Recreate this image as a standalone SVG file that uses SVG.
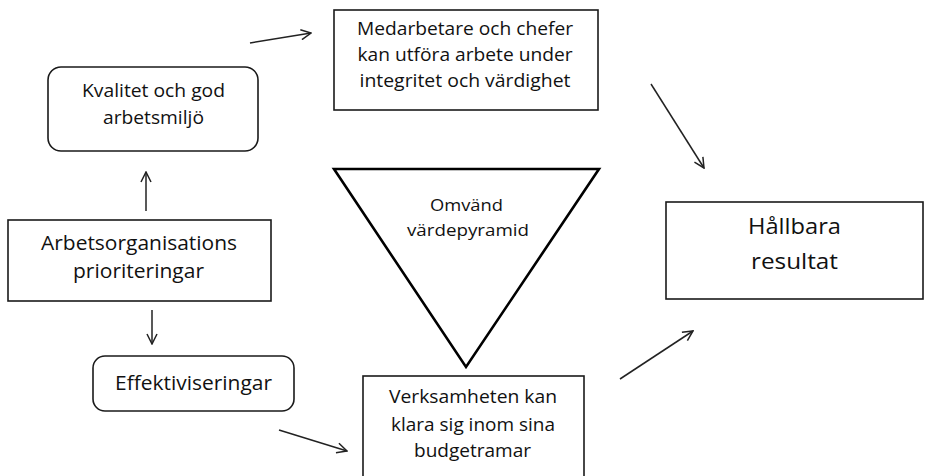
<svg xmlns="http://www.w3.org/2000/svg" width="932" height="476" viewBox="0 0 932 476">
<style>
  .box { fill: #ffffff; stroke: #1a1a1a; stroke-width: 1.6; }
  .tri { fill: #ffffff; stroke: #000000; stroke-width: 2.6; stroke-linejoin: miter; }
  .lbl { font-family: "Open Sans", "Noto Sans", sans-serif; fill: #111111; text-anchor: middle; }
  .conn { stroke: #222222; stroke-width: 1.5; fill: none; marker-end: url(#arr); }
</style>
<defs>
  <marker id="arr" viewBox="0 0 12 12" refX="11" refY="6" markerWidth="12" markerHeight="12" markerUnits="userSpaceOnUse" orient="auto">
    <path d="M1,1 L11,6 L1,11" fill="none" stroke="#222222" stroke-width="1.5"/>
  </marker>
</defs>
<rect width="932" height="476" fill="#ffffff"/>

<g id="node-medarbetare">
  <rect class="box" x="334" y="10" width="264" height="100"/>
  <text class="lbl" font-size="18.5" x="465" y="35" textLength="216" lengthAdjust="spacingAndGlyphs">Medarbetare och chefer</text>
  <text class="lbl" font-size="18.5" x="465" y="61" textLength="215" lengthAdjust="spacingAndGlyphs">kan utföra arbete under</text>
  <text class="lbl" font-size="18.5" x="465" y="87" textLength="211" lengthAdjust="spacingAndGlyphs">integritet och värdighet</text>
</g>

<g id="node-kvalitet">
  <rect class="box" x="48" y="67" width="210" height="84" rx="13" ry="13"/>
  <text class="lbl" font-size="17.5" x="153.5" y="97" textLength="143" lengthAdjust="spacingAndGlyphs">Kvalitet och god</text>
  <text class="lbl" font-size="17.5" x="153.5" y="124" textLength="101" lengthAdjust="spacingAndGlyphs">arbetsmiljö</text>
</g>

<g id="node-arbetsorg">
  <rect class="box" x="8" y="220" width="263" height="81"/>
  <text class="lbl" font-size="19.5" x="139" y="250" textLength="196" lengthAdjust="spacingAndGlyphs">Arbetsorganisations</text>
  <text class="lbl" font-size="19.5" x="138.5" y="278" textLength="131" lengthAdjust="spacingAndGlyphs">prioriteringar</text>
</g>

<g id="node-effektiv">
  <rect class="box" x="93" y="356" width="201" height="55" rx="12" ry="12"/>
  <text class="lbl" font-size="19.5" x="193.5" y="390" textLength="157" lengthAdjust="spacingAndGlyphs">Effektiviseringar</text>
</g>

<g id="node-pyramid">
  <polygon class="tri" points="334,169 599,169 466,367"/>
  <text class="lbl" font-size="17" x="466.5" y="211" textLength="73" lengthAdjust="spacingAndGlyphs">Omvänd</text>
  <text class="lbl" font-size="17" x="468" y="236" textLength="122" lengthAdjust="spacingAndGlyphs">värdepyramid</text>
</g>

<g id="node-verksamheten">
  <rect class="box" x="363" y="376" width="221" height="110"/>
  <text class="lbl" font-size="18" x="473" y="403" textLength="168" lengthAdjust="spacingAndGlyphs">Verksamheten kan</text>
  <text class="lbl" font-size="18" x="473" y="431" textLength="164" lengthAdjust="spacingAndGlyphs">klara sig inom sina</text>
  <text class="lbl" font-size="18" x="472.5" y="457" textLength="117" lengthAdjust="spacingAndGlyphs">budgetramar</text>
</g>

<g id="node-hallbara">
  <rect class="box" x="666" y="202" width="257" height="97"/>
  <text class="lbl" font-size="21.5" x="794.5" y="234" textLength="93" lengthAdjust="spacingAndGlyphs">Hållbara</text>
  <text class="lbl" font-size="21.5" x="794.5" y="269" textLength="87" lengthAdjust="spacingAndGlyphs">resultat</text>
</g>

<g id="connectors">
  <line class="conn" x1="250" y1="43" x2="311" y2="33"/>
  <line class="conn" x1="651" y1="84" x2="704" y2="168"/>
  <line class="conn" x1="146" y1="211" x2="146" y2="172"/>
  <line class="conn" x1="152" y1="310" x2="152" y2="344"/>
  <line class="conn" x1="279" y1="430" x2="347" y2="451"/>
  <line class="conn" x1="620" y1="379" x2="693" y2="331"/>
</g>
</svg>
